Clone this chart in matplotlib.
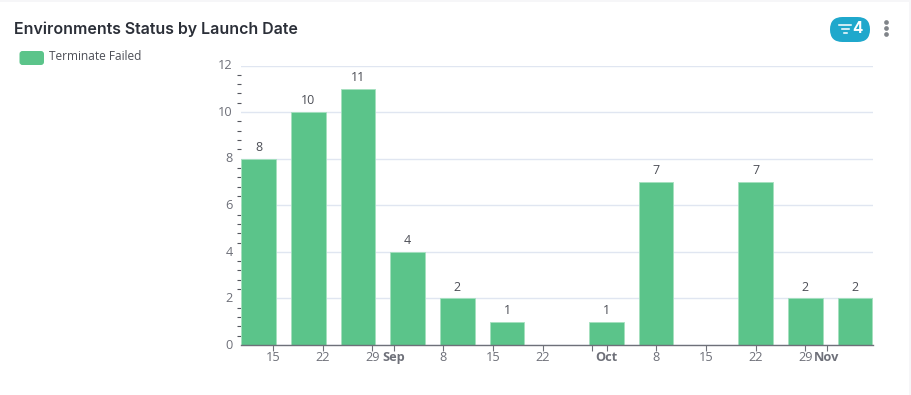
import matplotlib
matplotlib.use("Agg")
import matplotlib.pyplot as plt
import matplotlib.dates as mdates
from matplotlib.patches import FancyBboxPatch, Rectangle
from matplotlib.transforms import ScaledTranslation
import pandas as pd

W, H = 911, 395

# data
launch_dates = ["2023-08-13", "2023-08-20", "2023-08-27", "2023-09-03", "2023-09-10", "2023-09-17",
                "2023-10-01", "2023-10-08", "2023-10-22", "2023-10-29", "2023-11-05"]
counts = [8, 10, 11, 4, 2, 1, 1, 7, 7, 2, 2]
series_name = "Terminate Failed"
tick_dates = ["2023-08-15", "2023-08-22", "2023-08-29", "2023-09-01", "2023-09-08", "2023-09-15", "2023-09-22",
              "2023-09-29", "2023-10-01", "2023-10-08", "2023-10-15", "2023-10-22", "2023-10-29", "2023-11-01"]
tick_labels = ["15", "22", "29", "Sep", "8", "15", "22", "", "Oct", "8", "15", "22", "29", "Nov"]
bold_labels = ["Sep", "Oct", "Nov"]
y_ticks = [0, 2, 4, 6, 8, 10, 12]

plt.rcParams['font.family'] = ['Open Sans', 'DejaVu Sans']

GREEN = '#5bc48a'
GREY = '#6e7079'

fig = plt.figure(figsize=(W / 100, H / 100), dpi=100, facecolor='white')

# pixel overlay for the card furniture
bg = fig.add_axes([0, 0, 1, 1], zorder=0)
bg.set_xlim(0, W)
bg.set_ylim(H, 0)
bg.axis('off')
bg.add_patch(Rectangle((0, 0), W, 2, color='#f6f6f8', lw=0))
bg.add_patch(Rectangle((909, 0), 2, H, color='#f6f6f8', lw=0))

bg.text(14, 29.5, "Environments Status by Launch Date", family='Inter', fontsize=11.45, fontweight='semibold',
        color='#2b2f38', va='center', ha='left')

# legend
bg.add_patch(FancyBboxPatch((19.5, 51), 24.5, 14, boxstyle="round,pad=0,rounding_size=3", fc=GREEN, ec='none'))
bg.text(49, 56.5, series_name, fontsize=8.6, color='#4d4f57', va='center', ha='left')

# filter badge
bg.add_patch(FancyBboxPatch((830, 17), 40, 25, boxstyle="round,pad=0,rounding_size=12.5", fc='#1fa8cc', ec='none'))
bg.plot([839, 851], [25, 25], color='white', lw=1.1)
bg.plot([842, 849], [29, 29], color='white', lw=1.1)
bg.plot([844, 847], [33, 33], color='white', lw=1.1)
bg.text(857, 28.5, "4", family='Inter', fontsize=11, fontweight='bold', color='white', va='center', ha='center')
for yy in [22, 28, 34]:
    bg.plot([886], [yy], 'o', ms=3.4, color='#808489', mew=0)

# chart
ax = fig.add_axes([241 / W, 1 - 345 / H, 632 / W, (345 - 65.5) / H], zorder=1)
ax.patch.set_alpha(0)

x = mdates.date2num(pd.to_datetime(launch_dates))
bars = ax.bar(x, counts, width=4.85, color=GREEN, edgecolor='#a5e0bf', linewidth=0.6, zorder=3)
for xx, c in zip(x, counts):
    ax.annotate(str(c), (xx, c), xytext=(0, 3.5), textcoords='offset points', ha='center', va='bottom',
                fontsize=9, color='#4d4f57')

px_per_day = 49.7 / 7
x0 = mdates.date2num(pd.Timestamp("2023-08-13")) - (258.6 - 241) / px_per_day
ax.set_xlim(x0, x0 + 632 / px_per_day)
ax.set_ylim(0, 12)

ax.set_yticks(y_ticks)
ax.set_yticks([v / 10 for v in range(0, 121, 4) if v % 20 != 0], minor=True)
ax.tick_params(axis='y', which='major', length=0, pad=6, labelsize=9.2, labelcolor=GREY)
ax.tick_params(axis='y', which='minor', length=3, width=0.8, color='#55575e')
ax.grid(axis='y', which='major', color='#e0e6f1', lw=1, zorder=0)
# y labels sit a bit above their gridlines
up = ScaledTranslation(0, 1.3 / 100, fig.dpi_scale_trans)
for lab in ax.get_yticklabels():
    lab.set_transform(lab.get_transform() + up)

ax.set_xticks(mdates.date2num(pd.to_datetime(tick_dates)))
ax.set_xticklabels(tick_labels)
ax.tick_params(axis='x', length=4, width=0.8, color=GREY, pad=0.5, labelsize=9.2, labelcolor=GREY)
for lab in ax.get_xticklabels():
    if lab.get_text() in bold_labels:
        lab.set_fontweight('bold')

for s in ['top', 'right', 'left']:
    ax.spines[s].set_visible(False)
ax.spines['bottom'].set_color(GREY)
ax.spines['bottom'].set_linewidth(1)
ax.spines['bottom'].set_zorder(4)

fig.savefig('out.png', dpi=100)
